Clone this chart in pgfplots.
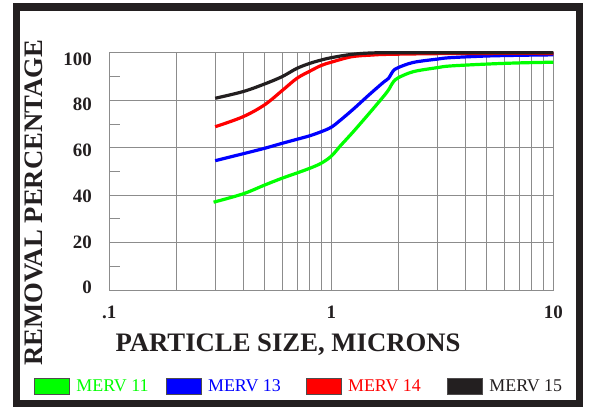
\documentclass[border=0pt]{standalone}
\usepackage{pgfplots}
\pgfplotsset{compat=1.18}
\usepackage{fontspec}
\setmainfont{Liberation Serif}
\definecolor{frame}{HTML}{231F20}
\definecolor{gridc}{HTML}{8C8C8C}
\definecolor{mgreen}{HTML}{00FF00}
\definecolor{mblue}{HTML}{0000FF}
\definecolor{mred}{HTML}{FF0000}
\begin{document}
\begin{tikzpicture}
\useasboundingbox (0,0) rectangle (589bp,409bp);
\fill[white] (0,0) rectangle (589bp,409bp);
\draw[line width=7.3bp, frame] (16.35bp,5.5bp) rectangle (579.35bp,402bp);
\begin{axis}[
  at={(109.3bp,119bp)}, anchor=south west,
  scale only axis, width=444bp, height=237.3bp,
  xmode=log, xmin=0.1, xmax=10, ymin=0, ymax=100,
  xtick={0.1,1,10}, xticklabels={.1,1,10},
  minor xtick={0.2,0.3,0.4,0.5,0.6,0.7,0.8,0.9,2,3,4,5,6,7,8,9},
  ytick={0,20,40,60,80,100},
  minor ytick={10,30,50,70,90},
  xmajorgrids, xminorgrids, ymajorgrids,
  tick pos=left, tick align=inside,
  major tick length=0pt, minor tick length=11bp,
  axis line style={gridc, line width=0.7bp},
  grid style={gridc, line width=0.7bp},
  minor grid style={gridc, line width=0.7bp},
  tick style={gridc, line width=0.7bp},
  minor tick style={gridc, line width=0.7bp},
  /pgf/number format/assume math mode=true,
  tick label style={font=\fontsize{19}{19}\selectfont\bfseries, text=frame},
  xticklabel style={yshift=-12bp},
  yticklabel style={xshift=-14bp, yshift={2.5bp-1.76bp*\ticknum}},
  xlabel={PARTICLE SIZE, MICRONS}, ylabel={REMOVAL PERCENTAGE},
  label style={font=\fontsize{26.8}{26.8}\selectfont\bfseries, text=frame},
  xlabel style={at={(axis description cs:0.4025,-0.232)}, anchor=center},
  ylabel style={at={(axis description cs:-0.1696,0.367)}, anchor=center},
  clip=false,
  legend style={at={(axis description cs:-0.1696,-0.407)}, anchor=west,
    draw=none, fill=none, inner sep=0pt, legend columns=4,
    font=\fontsize{18}{18}\selectfont, nodes={inner sep=0pt},
    /tikz/every odd column/.append style={column sep=6.5bp},
    /tikz/every even column/.append style={column sep=0bp}},
]
\addplot[mgreen, line width=3.2bp, smooth, tension=0.55,
  legend image code/.code={\draw[fill=mgreen, draw=frame!80, line width=0.8bp] (0bp,-8bp) rectangle (35bp,8bp);}]
coordinates {(0.295,37.0)(0.4,40.5)(0.5,44.2)(0.6,47.1)(0.7,49.3)(0.8,51.3)(0.9,53.4)(1.0,56.4)(1.1,60.8)(1.256,66.7)(1.49,74.7)(1.716,81.5)(1.81,84.3)(1.9,87.6)(2.0,89.4)(2.34,92.0)(3.0,93.7)(3.43,94.4)(5.0,95.2)(7.0,95.7)(10,96.0)};
\addlegendentry{\makebox[89.3bp][l]{\textcolor{mgreen}{MERV 11}}}
\addplot[mblue, line width=3.2bp, smooth, tension=0.55,
  legend image code/.code={\draw[fill=mblue, draw=frame!80, line width=0.8bp] (0bp,-8bp) rectangle (35bp,8bp);}]
coordinates {(0.3,54.5)(0.4,57.4)(0.5,59.7)(0.6,61.8)(0.7,63.5)(0.8,65.0)(0.9,66.7)(1.0,68.6)(1.1,71.6)(1.256,76.2)(1.49,82.5)(1.716,87.5)(1.81,89.2)(1.9,92.3)(2.0,93.7)(2.34,95.9)(3.0,97.3)(3.43,97.9)(5.0,98.6)(7.0,98.9)(10,99.1)};
\addlegendentry{\makebox[97.7bp][l]{\textcolor{mblue}{MERV 13}}}
\addplot[mred, line width=3.2bp, smooth, tension=0.55,
  legend image code/.code={\draw[fill=mred, draw=frame!80, line width=0.8bp] (0bp,-8bp) rectangle (35bp,8bp);}]
coordinates {(0.3,68.8)(0.4,73.0)(0.5,78.0)(0.6,84.0)(0.7,89.2)(0.8,92.2)(0.9,94.6)(1.0,96.0)(1.235,98.3)(1.52,99.0)(1.8,99.3)(3.0,99.6)(5.0,99.7)(10,99.7)};
\addlegendentry{\makebox[99bp][l]{\textcolor{mred}{MERV 14}}}
\addplot[frame, line width=3.2bp, smooth, tension=0.55,
  legend image code/.code={\draw[fill=frame, draw=frame!80, line width=0.8bp] (0bp,-8bp) rectangle (35bp,8bp);}]
coordinates {(0.3,80.8)(0.4,83.6)(0.5,86.8)(0.6,89.9)(0.7,93.4)(0.8,95.5)(0.9,96.9)(1.0,97.9)(1.235,99.3)(1.52,99.9)(2.0,100)(3.0,100)(5.0,100)(10,100)};
\addlegendentry{\makebox[80bp][l]{\textcolor{frame}{MERV 15}}}
\end{axis}
\end{tikzpicture}
\end{document}
